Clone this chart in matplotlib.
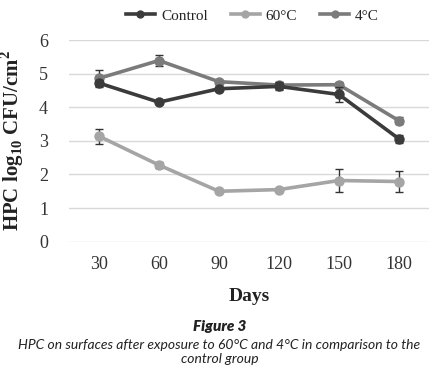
import matplotlib
matplotlib.use("Agg")
import matplotlib.pyplot as plt
from matplotlib.lines import Line2D
import numpy as np

days = ["30", "60", "90", "120", "150", "180"]

control = [4.72, 4.15, 4.55, 4.62, 4.38, 3.06]
control_err = [0.10, 0.04, 0.05, 0.12, 0.22, 0.12]

heat60 = [3.14, 2.28, 1.50, 1.55, 1.82, 1.79]
heat60_err = [0.22, 0.08, 0.03, 0.03, 0.35, 0.31]

cold4 = [4.86, 5.39, 4.76, 4.66, 4.67, 3.60]
cold4_err = [0.26, 0.17, 0.03, 0.10, 0.08, 0.10]

plt.rcParams["font.family"] = ["Liberation Serif", "DejaVu Serif"]
plt.rcParams["mathtext.fontset"] = "custom"
plt.rcParams["mathtext.rm"] = "Liberation Serif:bold"
plt.rcParams["mathtext.bf"] = "Liberation Serif:bold"

fig = plt.figure(figsize=(4.39, 3.75), dpi=100)
ax = fig.add_axes([0.157, 0.3555, 0.82, 0.5378])

x = np.arange(len(days))
series = [
    ("Control", control, control_err, "#3b3b3b"),
    ("60°C", heat60, heat60_err, "#a5a5a5"),
    ("4°C", cold4, cold4_err, "#7b7b7b"),
]
handles = []
for z, (name, vals, err, col) in zip([4, 3, 2], series):
    ax.errorbar(x, vals, yerr=err, color=col, lw=2.6, marker="o", ms=6.5,
                ecolor="#333333", elinewidth=1.0, capsize=3, capthick=1.0,
                zorder=z)
    handles.append(Line2D([], [], color=col, lw=2.6, marker="o", ms=5, label=name))

ax.set_xlim(-0.5, 5.5)
ax.set_ylim(0, 6)
ax.set_xticks(x)
ax.set_xticklabels(days)
ax.set_yticks(range(7))
ax.tick_params(length=0, labelsize=13, colors="#333333")
ax.tick_params(axis="y", pad=15)
ax.tick_params(axis="x", pad=10)
ax.grid(True, axis="y", color="#d9d9d9", lw=1)
ax.set_axisbelow(True)
for s in ax.spines.values():
    s.set_visible(False)

ax.set_xlabel("Days", fontsize=14, fontweight="bold", labelpad=11, color="#222222")
ax.set_ylabel(r"HPC log$_{\mathrm{10}}$ CFU/cm$^{\mathrm{2}}$", fontsize=15,
              fontweight="bold", labelpad=9, color="#222222")

fig.legend(handles=handles, loc="center", bbox_to_anchor=(0.575, 0.958), ncol=3,
           frameon=False, fontsize=11, handlelength=1.9, columnspacing=1.5,
           handletextpad=0.4, labelcolor="#222222")

cap_font = ["Lato", "DejaVu Sans"]
fig.text(0.5, 0.118, "Figure 3", ha="center", fontsize=11, fontweight="heavy",
         style="italic", family=cap_font, color="#222222")
fig.text(0.5, 0.032,
         "HPC on surfaces after exposure to 60°C and 4°C in comparison to the\ncontrol group",
         ha="center", fontsize=10, style="italic", family=cap_font,
         color="#222222", linespacing=1.2)

fig.savefig("out.png")
